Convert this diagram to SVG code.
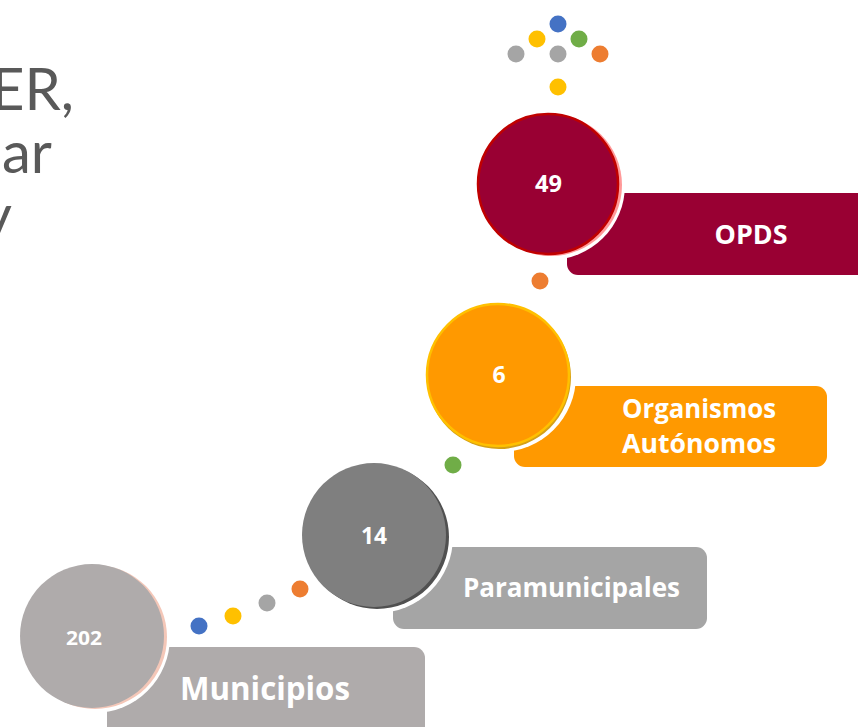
<svg xmlns="http://www.w3.org/2000/svg" width="858" height="727" viewBox="0 0 858 727">
<style>
.lbl{font-family:"Open Sans","Liberation Sans",sans-serif;font-weight:bold;fill:#FFFFFF;text-anchor:middle}
.num{font-family:"Open Sans","Liberation Sans",sans-serif;font-weight:bold;fill:#FFFFFF;text-anchor:middle}
.head{font-family:"Lato","DejaVu Sans","Liberation Sans",sans-serif;font-weight:normal;fill:#595959;font-size:58px;text-anchor:end}
.dot{stroke:none}
</style>
<rect width="858" height="727" fill="#FFFFFF"/>
<g id="title">
<text class="head" x="74" y="110">ER,</text>
<text class="head" x="52" y="173">ar</text>
<text class="head" x="12" y="236">y</text>
</g>
<g id="connectors">
<circle class="dot" cx="558" cy="24" r="8.5" fill="#4472C4"/>
<circle class="dot" cx="537" cy="39" r="8.5" fill="#FFC000"/>
<circle class="dot" cx="579" cy="39" r="8.5" fill="#70AD47"/>
<circle class="dot" cx="516" cy="54" r="8.5" fill="#A5A5A5"/>
<circle class="dot" cx="558" cy="54" r="8.5" fill="#A5A5A5"/>
<circle class="dot" cx="600" cy="54" r="8.5" fill="#ED7D31"/>
<circle class="dot" cx="558" cy="87" r="8.5" fill="#FFC000"/>
<circle class="dot" cx="540" cy="281" r="8.5" fill="#ED7D31"/>
<circle class="dot" cx="453" cy="465" r="8.5" fill="#70AD47"/>
<circle class="dot" cx="300" cy="589" r="8.5" fill="#ED7D31"/>
<circle class="dot" cx="267" cy="603" r="8.5" fill="#A5A5A5"/>
<circle class="dot" cx="233" cy="616" r="8.5" fill="#FFC000"/>
<circle class="dot" cx="199" cy="626" r="8.5" fill="#4472C4"/>
</g>
<g id="opds">
<rect x="567" y="193" width="310" height="82" rx="11" fill="#990033"/>
<circle cx="550" cy="185" r="75" fill="#FFFFFF"/>
<circle cx="551" cy="185" r="71" fill="#FF9999"/>
<circle cx="548" cy="184" r="70" fill="#990033" stroke="#C00000" stroke-width="2.5"/>
<text class="num" x="548.5" y="192" font-size="23" textLength="27" lengthAdjust="spacingAndGlyphs">49</text>
<text class="lbl" x="751" y="244" font-size="26" textLength="73" lengthAdjust="spacingAndGlyphs">OPDS</text>
</g>
<g id="organismos">
<rect x="514" y="386" width="313" height="81" rx="11" fill="#FF9900"/>
<circle cx="500" cy="376" r="76" fill="#FFFFFF"/>
<circle cx="499" cy="377" r="72" fill="#D4A017"/>
<circle cx="498" cy="375" r="71" fill="#FF9900" stroke="#FFC000" stroke-width="2.5"/>
<text class="num" x="499" y="383" font-size="23">6</text>
<text class="lbl" x="699" y="418" font-size="27" textLength="154" lengthAdjust="spacingAndGlyphs">Organismos</text>
<text class="lbl" x="699" y="453" font-size="27" textLength="154" lengthAdjust="spacingAndGlyphs">Autónomos</text>
</g>
<g id="paramunicipales">
<rect x="393" y="547" width="314" height="82" rx="11" fill="#A5A5A5"/>
<circle cx="377" cy="537" r="76" fill="#FFFFFF"/>
<circle cx="377" cy="537" r="72" fill="#505050"/>
<circle cx="374" cy="535" r="72" fill="#7F7F7F"/>
<text class="num" x="374" y="544" font-size="23" textLength="26" lengthAdjust="spacingAndGlyphs">14</text>
<text class="lbl" x="571.5" y="597" font-size="26" textLength="217" lengthAdjust="spacingAndGlyphs">Paramunicipales</text>
</g>
<g id="municipios">
<rect x="107" y="647" width="318" height="100" rx="11" fill="#AFABAB"/>
<circle cx="94" cy="637" r="76" fill="#FFFFFF"/>
<circle cx="95" cy="637" r="72" fill="#F4C7B8"/>
<circle cx="92" cy="636" r="72" fill="#AFABAB"/>
<text class="num" x="84" y="645" font-size="20" textLength="36" lengthAdjust="spacingAndGlyphs">202</text>
<text class="lbl" x="265" y="700" font-size="32" textLength="170" lengthAdjust="spacingAndGlyphs">Municipios</text>
</g>
</svg>
